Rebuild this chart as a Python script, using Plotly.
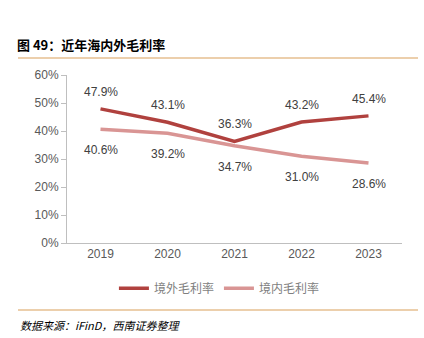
import plotly.graph_objects as go

years = ["2019", "2020", "2021", "2022", "2023"]
overseas = [47.9, 43.1, 36.3, 43.2, 45.4]
domestic = [40.6, 39.2, 34.7, 31.0, 28.6]
y_ticks = [0, 10, 20, 30, 40, 50, 60]

W, H = 424, 338
L, R, T, B = 67, 22, 75, 95

fig = go.Figure()
fig.add_trace(go.Scatter(x=years, y=overseas, mode="lines", name="境外毛利率",
                         line=dict(color="#B0413E", width=3.5)))
fig.add_trace(go.Scatter(x=years, y=domestic, mode="lines", name="境内毛利率",
                         line=dict(color="#D99594", width=3.5)))

for i, v in enumerate(overseas):
    fig.add_annotation(x=i, y=v, text=f"{v:.1f}%", showarrow=False, yshift=17,
                       font=dict(size=12, color="#404040", family="Liberation Sans"))
for i, v in enumerate(domestic):
    fig.add_annotation(x=i, y=v, text=f"{v:.1f}%", showarrow=False, yshift=-21,
                       font=dict(size=12, color="#404040", family="Liberation Sans"))

fig.update_layout(
    width=W, height=H, margin=dict(l=L, r=R, t=T, b=B),
    plot_bgcolor="white", paper_bgcolor="white",
    font=dict(family="Liberation Sans, Noto Sans CJK SC", size=12, color="#404040"),
    showlegend=True,
    legend=dict(orientation="h", x=0.455, xanchor="center", y=-0.27, yanchor="middle",
                font=dict(size=12, color="#7F7F7F", family="Noto Sans CJK SC"),
                itemwidth=30, traceorder="normal"),
    xaxis=dict(type="category", range=[-0.5, 4.5], showline=True, linecolor="#BFBFBF",
               linewidth=1, ticks="", showgrid=False, tickfont=dict(size=12, color="#595959")),
    yaxis=dict(range=[0, 60], tickvals=y_ticks, ticktext=[f"{v}%" for v in y_ticks],
               showline=True, linecolor="#BFBFBF", linewidth=1, ticks="outside",
               ticklen=5, tickcolor="#BFBFBF", showgrid=False, zeroline=False,
               tickfont=dict(size=12, color="#595959")),
)

fig.add_annotation(text="<b>图 49：近年海内外毛利率</b>", xref="paper", yref="paper",
                   x=-52/ (W-L-R), y=1 + 31/(H-T-B), xanchor="left", yanchor="middle",
                   showarrow=False, font=dict(size=13, color="#000000", family="Noto Sans CJK SC"))
fig.add_shape(type="line", xref="paper", yref="paper",
              x0=-49/(W-L-R), x1=1 + 16/(W-L-R), y0=1 + 17/(H-T-B), y1=1 + 17/(H-T-B),
              line=dict(color="#D9A05B", width=1.2))
fig.add_shape(type="line", xref="paper", yref="paper",
              x0=-49/(W-L-R), x1=1 + 16/(W-L-R), y0=-67/(H-T-B), y1=-67/(H-T-B),
              line=dict(color="#D9A05B", width=1.2))
fig.add_annotation(text="<i>数据来源：iFinD，西南证券整理</i>", xref="paper", yref="paper",
                   x=-49/(W-L-R), y=-82/(H-T-B), xanchor="left", yanchor="middle",
                   showarrow=False, font=dict(size=11, color="#000000", family="Noto Sans CJK SC"))

fig.write_html("out.html")
